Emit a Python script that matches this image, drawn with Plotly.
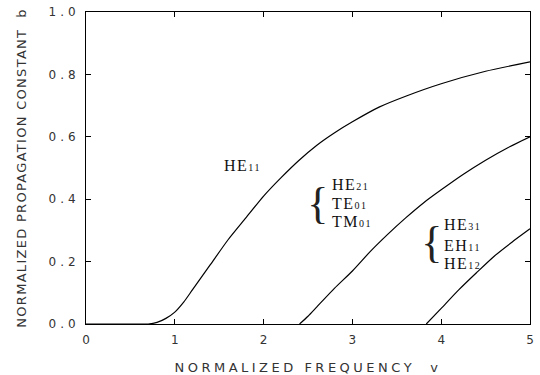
import plotly.graph_objects as go

# HE11 mode
v_he11 = [0.0, 0.5, 0.7, 0.8, 0.9, 1.0, 1.1, 1.2, 1.4, 1.6, 1.8, 2.0, 2.2, 2.4, 2.6, 2.8, 3.0, 3.3, 3.6, 4.0, 4.5, 5.0]
b_he11 = [0.0, 0.0, 0.0, 0.005, 0.018, 0.038, 0.07, 0.11, 0.19, 0.27, 0.34, 0.41, 0.47, 0.525, 0.573, 0.613, 0.648, 0.695, 0.73, 0.77, 0.81, 0.84]

# HE21 / TE01 / TM01
v_m2 = [2.405, 2.5, 2.6, 2.8, 3.0, 3.2, 3.4, 3.6, 3.8, 4.0, 4.25, 4.5, 4.75, 5.0]
b_m2 = [0.0, 0.025, 0.055, 0.115, 0.17, 0.232, 0.288, 0.34, 0.388, 0.43, 0.48, 0.525, 0.565, 0.60]

# HE31 / EH11 / HE12
v_m3 = [3.832, 4.0, 4.2, 4.4, 4.6, 4.8, 5.0]
b_m3 = [0.0, 0.05, 0.11, 0.165, 0.218, 0.263, 0.305]

x_ticks = [0, 1, 2, 3, 4, 5]
y_ticks = [0.0, 0.2, 0.4, 0.6, 0.8, 1.0]

fig = go.Figure()
for vx, by in [(v_he11, b_he11), (v_m2, b_m2), (v_m3, b_m3)]:
    fig.add_trace(go.Scatter(x=vx, y=by, mode="lines",
                             line=dict(color="black", width=1.2, shape="spline", smoothing=0.6),
                             showlegend=False, hoverinfo="skip"))

serif = "Liberation Serif"
lab_font = dict(family=serif, size=16, color="#111")


def sub(main, s):
    return f'{main}<span style="font-size:10px">{s}</span>'


def lab(x, y, text):
    fig.add_annotation(x=x, y=y, text=text, showarrow=False, xanchor="left", yanchor="middle", font=lab_font)


def brace(x, y):
    fig.add_annotation(x=x, y=y, text="{", showarrow=False, xanchor="center", yanchor="middle",
                       font=dict(family=serif, size=44, color="#222"))


lab(1.57, 0.508, sub("HE", "11"))
lab(2.78, 0.447, sub("HE", "21"))
lab(2.78, 0.387, sub("TE", "01"))
lab(2.78, 0.330, sub("TM", "01"))
brace(2.62, 0.387)
lab(4.04, 0.319, sub("HE", "31"))
lab(4.04, 0.252, sub("EH", "11"))
lab(4.04, 0.195, sub("HE", "12"))
brace(3.90, 0.262)

sans = "DejaVu Sans"
axis_common = dict(showline=True, linecolor="black", linewidth=1, mirror="ticks", ticks="inside",
                   ticklen=5, tickcolor="black", showgrid=False, zeroline=False, automargin=False,
                   tickfont=dict(family=sans, size=12, color="#333"))
fig.update_xaxes(range=[0, 5], tickvals=x_ticks, ticktext=[str(t) for t in x_ticks], ticklabelstandoff=5,
                 title=dict(text="NORMALIZED FREQUENCY  v", font=dict(family=sans, size=13, color="#333"), standoff=17),
                 **axis_common)
fig.update_yaxes(range=[0, 1.0], tickvals=y_ticks, ticktext=[f"{t:.1f}" for t in y_ticks], ticklabelstandoff=3,
                 title=dict(text="NORMALIZED PROPAGATION CONSTANT  b", font=dict(family=sans, size=13, color="#333"), standoff=30),
                 **axis_common)
fig.update_layout(width=540, height=375, margin=dict(l=86, r=10, t=12, b=51),
                  plot_bgcolor="white", paper_bgcolor="white")

spacing_js = """
var gd = document.getElementById('{plot_id}');
function ls(){
  gd.querySelectorAll('.ytick text').forEach(function(e){e.style.letterSpacing='4px';});
  gd.querySelectorAll('.xtitle').forEach(function(e){e.style.letterSpacing='3.5px';});
  gd.querySelectorAll('.ytitle').forEach(function(e){e.style.letterSpacing='1.3px';});
  gd.querySelectorAll('.annotation-text').forEach(function(e){e.style.letterSpacing='1.5px';});
}
ls();
gd.on('plotly_afterplot', ls);
"""
fig.write_html("out.html", post_script=spacing_js)
